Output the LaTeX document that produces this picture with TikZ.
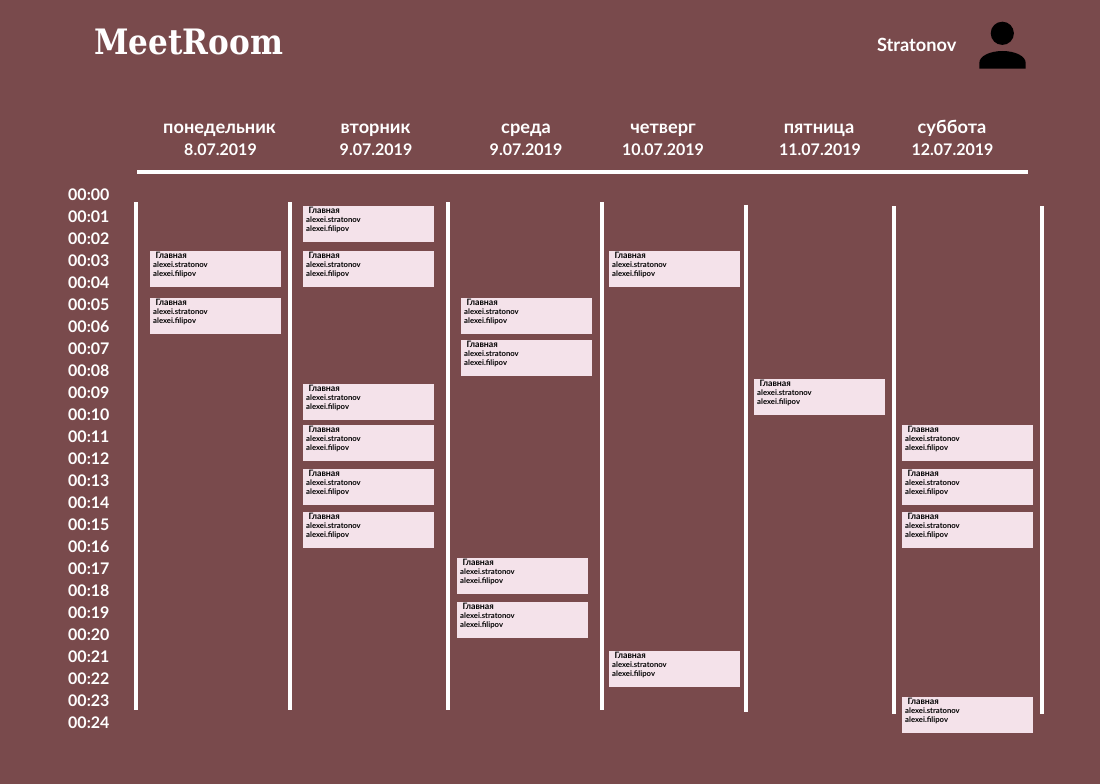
\documentclass[tikz,border=0pt]{standalone}
\usepackage{fontspec}
\setmainfont{Lato}
\newfontfamily\logofont[FakeStretch=0.89]{DejaVu Serif}
\definecolor{bgmaroon}{HTML}{794A4C}
\definecolor{evpink}{HTML}{F4E2EA}
\newcommand{\evtext}{\parbox[c][36pt][t]{131pt}{\fontsize{7.7}{9}\selectfont\bfseries\leftskip=3pt\parindent=0pt\vspace*{1pt}%
\strut\hspace*{2.5pt}\raisebox{0.3pt}{\fontsize{8.8}{9}\selectfont Главная}\par\strut alexei.stratonov\par\strut alexei.filipov}}
\tikzset{
  evbox/.style={anchor=north west,inner sep=0pt,fill=evpink,text=black,minimum width=131pt,minimum height=36pt},
  timelabel/.style={anchor=west,inner sep=0pt,text=white,font=\fontsize{16}{18}\selectfont\bfseries},
  datelabel/.style={anchor=base,inner sep=0pt,text=white,font=\fontsize{16}{18}\selectfont\bfseries},
  dayname/.style={anchor=base,inner sep=0pt,text=white,font=\fontsize{18.2}{20}\selectfont\bfseries},
  rulew/.style={draw=white,line width=4pt}
}
\begin{document}
\begin{tikzpicture}[x=1pt,y=-1pt]
\fill[bgmaroon] (0,0) rectangle (1100,784);
\useasboundingbox (0,0) rectangle (1100,784);
\node[anchor=west,inner sep=0pt,text=white,font=\logofont\fontsize{35}{38}\selectfont\bfseries] (logo) at (94,42) {MeetRoom};
\node[dayname] (user) at (916.7,51.7) {Stratonov};
\fill[black] (1002.3,33.3) circle (11.6);
\fill[black] (979.3,68.7) -- (979.3,63) .. controls (979.3,56) and (990,51) .. (1002.5,51) .. controls (1015,51) and (1025.7,56) .. (1025.7,63) -- (1025.7,68.7) -- cycle;
\node[dayname] (d1) at (219.5,133.4) {понедельник};
\node[datelabel] (d1b) at (220.5,155.5) {8.07.2019};
\node[dayname] (d2) at (375.5,133.4) {вторник};
\node[datelabel] (d2b) at (376,155.5) {9.07.2019};
\node[dayname] (d3) at (526,133.4) {среда};
\node[datelabel] (d3b) at (526,155.5) {9.07.2019};
\node[dayname] (d4) at (663,133.4) {четверг};
\node[datelabel] (d4b) at (663,155.5) {10.07.2019};
\node[dayname] (d5) at (819,133.4) {пятница};
\node[datelabel] (d5b) at (820,155.5) {11.07.2019};
\node[dayname] (d6) at (952,133.4) {суббота};
\node[datelabel] (d6b) at (952.5,155.5) {12.07.2019};
\draw[rulew] (137,172) -- (1028,172);
\foreach \x/\a/\b in {136/202/710,290/202/710,447.5/202/710,601.5/202/710,746/204.5/712,893.7/206/714,1041.7/206/714}
  \draw[rulew] (\x,\a) -- (\x,\b);
\foreach \n in {0,...,24}{
  \pgfmathsetmacro{\yy}{195+22*\n}
  \node[timelabel] (t\n) at (68,\yy) {00:\ifnum\n<10 0\fi\n};
}
\foreach \i/\x/\y in {1/150/251,2/150/298,3/303/206,4/303/251,5/303/384,6/303/425,7/303/469,8/303/512,9/461/298,10/461/340,11/457/558,12/457/602,13/609/251,14/609/651,15/754/379,16/902/425,17/902/469,18/902/512,19/902/697}
  \node[evbox] (e\i) at (\x,\y) {\evtext};
\end{tikzpicture}
\end{document}
